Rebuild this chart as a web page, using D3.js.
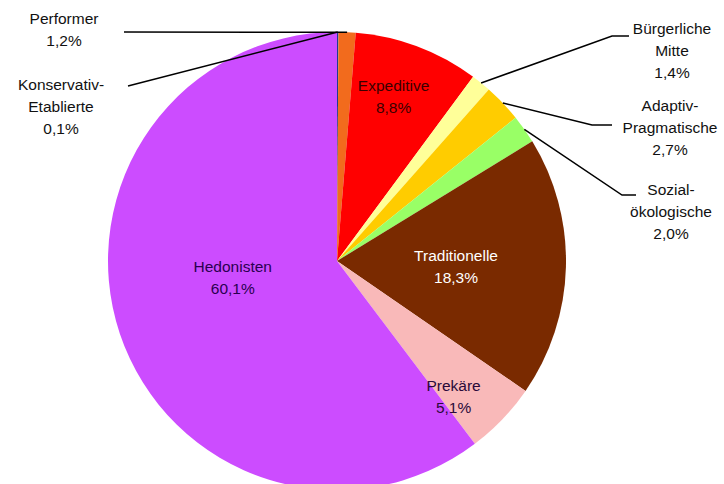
<!DOCTYPE html>
<html>
<head>
<meta charset="utf-8">
<script src="https://cdn.jsdelivr.net/npm/d3@7"></script>
<style>
  html, body { margin: 0; padding: 0; background: #fff; }
  svg { display: block; }
  text { font-family: "Liberation Sans", Arial, sans-serif; font-size: 15.5px; }
</style>
</head>
<body>
<svg id="chart" width="724" height="484"></svg>
<script>
// ---- data ----
const categories = ["Konservativ-Etablierte", "Performer", "Expeditive", "Bürgerliche Mitte",
  "Adaptiv-Pragmatische", "Sozialökologische", "Traditionelle", "Prekäre", "Hedonisten"];
const values = [0.1, 1.2, 8.8, 1.4, 2.7, 2.0, 18.3, 5.1, 60.1];
const labelLines = [
  ["Konservativ-", "Etablierte", "0,1%"],
  ["Performer", "1,2%"],
  ["Expeditive", "8,8%"],
  ["Bürgerliche", "Mitte", "1,4%"],
  ["Adaptiv-", "Pragmatische", "2,7%"],
  ["Sozial-", "ökologische", "2,0%"],
  ["Traditionelle", "18,3%"],
  ["Prekäre", "5,1%"],
  ["Hedonisten", "60,1%"]
];

// ---- style / layout ----
const colors = ["#1f3a93", "#f26b1d", "#ff0000", "#ffff99", "#ffcc00", "#99ff66", "#7a2a00", "#f9b9b9", "#cc4cff"];
const textColors = ["#111", "#111", "#3a0000", "#111", "#111", "#111", "#ffffff", "#2a0a3a", "#2a0050"];
const cx = 337, cy = 261, R = 229;
const layout = [
  { out: true, tx: 61, ty: 85, leader: [[128, 86]] },
  { out: true, tx: 64, ty: 19, leader: [[124, 32]] },
  { out: false, rf: 0.74, dx: -3, dy: -6 },
  { out: true, tx: 672, ty: 29, leader: [[612, 36], [629, 36]] },
  { out: true, tx: 670, ty: 106, leader: [[592, 125], [612, 125]] },
  { out: true, tx: 671, ty: 190, leader: [[622, 195], [636, 195]] },
  { out: false, rf: 0.52, dx: 0, dy: 2 },
  { out: false, rf: 0.79, dx: -14, dy: 10 },
  { out: false, rf: 0.48, dx: 0, dy: -18 }
];
const lineH = 22;

const svg = d3.select("#chart");
const g = svg.append("g").attr("transform", `translate(${cx},${cy})`);

const data = categories.map((c, i) => ({ name: c, value: values[i], i }));
const pie = d3.pie().value(d => d.value).sort(null);
const arcs = pie(data);
const arc = d3.arc().innerRadius(0).outerRadius(R);

g.selectAll("path.slice").data(arcs).enter().append("path")
  .attr("class", "slice")
  .attr("d", arc)
  .attr("fill", d => colors[d.data.i]);

// leader lines
arcs.forEach(a => {
  const L = layout[a.data.i];
  if (!L.out) return;
  const mid = (a.startAngle + a.endAngle) / 2;
  const p0 = [cx + R * Math.sin(mid), cy - R * Math.cos(mid)];
  svg.append("path")
    .attr("d", d3.line()([p0].concat(L.leader)))
    .attr("fill", "none")
    .attr("stroke", "#000")
    .attr("stroke-width", 1.5);
});

// labels
arcs.forEach(a => {
  const i = a.data.i;
  const L = layout[i];
  const lines = labelLines[i];
  let x, y0;
  if (L.out) {
    x = L.tx; y0 = L.ty;
  } else {
    const mid = (a.startAngle + a.endAngle) / 2;
    const r = R * L.rf;
    x = cx + r * Math.sin(mid) + L.dx;
    const yc = cy - r * Math.cos(mid) + L.dy;
    y0 = yc - (lines.length - 1) * lineH / 2;
  }
  const t = svg.append("text")
    .attr("text-anchor", "middle")
    .attr("fill", L.out ? "#111" : textColors[i]);
  lines.forEach((ln, k) => {
    t.append("tspan").attr("x", x).attr("y", y0 + k * lineH).attr("dy", "0.35em").text(ln);
  });
});
</script>
</body>
</html>
